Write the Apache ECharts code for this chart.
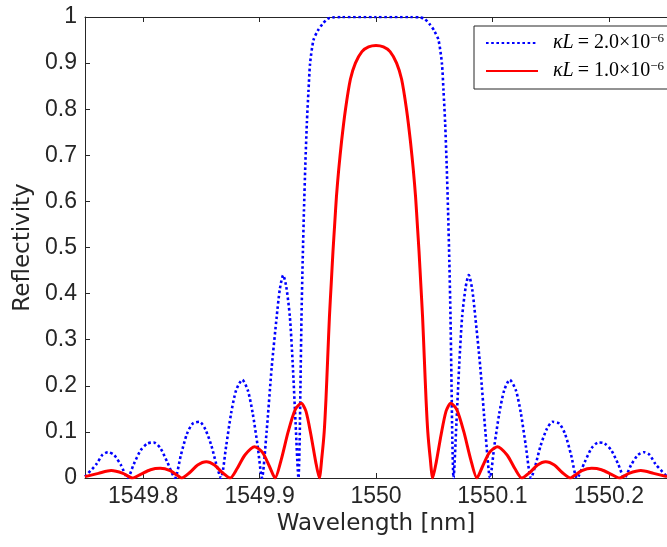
<!DOCTYPE html>
<html><head><meta charset="utf-8">
<script src="https://cdn.jsdelivr.net/npm/echarts@6/dist/echarts.min.js"></script>
<style>html,body{margin:0;padding:0;background:#fff}#c{width:667px;height:547px}</style>
</head><body><div id="c"></div>
<script>
// ---- data ----
const xTickValues = [1549.8, 1549.9, 1550, 1550.1, 1550.2];
const seriesNames = ['kL2', 'kL1'];
const legendLabels = ['{k|κL}{n|\u2009= 2.0×10}{s|−6}', '{k|κL}{n|\u2009= 1.0×10}{s|−6}'];

// κL = 2.0e-6 (blue, dotted)
const blueWl = [
1549.75,1549.7598,1549.7649,1549.7697,1549.7750,1549.7809,1549.7866,
1549.7919,1549.7978,1549.8037,1549.8090,1549.8147,1549.8206,1549.8273,
1549.8324,1549.8375,1549.8425,1549.8484,1549.8535,1549.8586,1549.8628,1549.8668,
1549.8713,1549.8755,1549.8798,1549.8851,1549.8899,1549.8941,1549.8983,1549.9020,
1549.9060,1549.9104,1549.9147,1549.9174,1549.9203,1549.9229,1549.9260,1549.9284,1549.9309,1549.9334,
1549.9344,1549.9351,1549.9360,1549.9370,1549.9381,1549.9393,1549.9406,1549.9420,1549.9434,
1549.9463,1549.9499,1549.9541,1549.9583,1549.9625,1549.9700,1550.0000,
1550.0300,1550.0375,1550.0417,1550.0459,1550.0501,1550.0537,
1550.0566,1550.0580,1550.0594,1550.0607,1550.0619,1550.0630,1550.0640,1550.0649,1550.0656,
1550.0666,1550.0691,1550.0716,1550.0740,1550.0771,1550.0797,1550.0826,1550.0853,1550.0896,1550.0940,
1550.0980,1550.1017,1550.1059,1550.1101,1550.1149,1550.1202,1550.1245,1550.1287,
1550.1332,1550.1372,1550.1414,1550.1465,1550.1516,1550.1575,1550.1625,1550.1676,
1550.1727,1550.1794,1550.1853,1550.1910,1550.1963,1550.2022,1550.2081,
1550.2134,1550.2191,1550.2250,1550.2303,1550.2351,1550.2402,1550.25
];
const blueR = [
0.003,0.03,0.05,0.056,0.05,0.028,0.0,
0.03,0.06,0.075,0.077,0.065,0.035,0.0,
0.05,0.095,0.118,0.122,0.105,0.07,0.03,0.0,
0.07,0.14,0.19,0.213,0.19,0.14,0.07,0.0,
0.10,0.24,0.35,0.41,0.44,0.415,0.35,0.25,0.12,0.0,
0.08,0.20,0.35,0.47,0.58,0.68,0.77,0.84,0.90,
0.95,0.97,0.985,0.996,0.999,1.0,1.0,
1.0,0.999,0.996,0.985,0.97,0.95,
0.90,0.84,0.77,0.68,0.58,0.47,0.35,0.20,0.08,
0.0,0.12,0.25,0.35,0.415,0.44,0.41,0.35,0.24,0.10,
0.0,0.07,0.14,0.19,0.213,0.19,0.14,0.07,
0.0,0.03,0.07,0.105,0.122,0.118,0.095,0.05,
0.0,0.035,0.065,0.077,0.075,0.06,0.03,
0.0,0.028,0.05,0.056,0.05,0.03,0.003
];

// κL = 1.0e-6 (red, solid)
const redWl = [
1549.75,1549.7615,1549.7725,1549.7826,1549.7908,
1549.7978,1549.8063,1549.8147,1549.8231,1549.8291,1549.8330,
1549.8400,1549.8468,1549.8542,1549.8612,1549.8679,1549.8747,
1549.8806,1549.8874,1549.8958,1549.9026,1549.9085,1549.9133,
1549.9186,1549.9245,1549.9305,1549.9358,1549.9398,1549.9440,1549.9482,1549.9513,
1549.9535,1549.9555,1549.9570,1549.9585,1549.9600,1549.9615,1549.9630,1549.9645,1549.9660,
1549.9680,1549.9704,1549.9738,1549.9780,1549.9823,1549.9879,1549.9936,1550.0000,
1550.0064,1550.0121,1550.0177,1550.0220,1550.0262,1550.0296,1550.0320,
1550.0340,1550.0355,1550.0370,1550.0385,1550.0400,1550.0415,1550.0430,1550.0445,1550.0465,
1550.0487,1550.0518,1550.0560,1550.0602,1550.0642,1550.0695,1550.0755,1550.0814,
1550.0867,1550.0915,1550.0974,1550.1042,1550.1126,1550.1194,
1550.1253,1550.1321,1550.1388,1550.1458,1550.1532,1550.1600,
1550.1670,1550.1709,1550.1769,1550.1853,1550.1937,1550.2022,
1550.2092,1550.2174,1550.2275,1550.2385,1550.25
];
const redR = [
0.003,0.01,0.016,0.01,0.0,
0.008,0.018,0.021,0.016,0.006,0.0,
0.012,0.028,0.035,0.028,0.012,0.0,
0.02,0.05,0.068,0.055,0.025,0.0,
0.04,0.10,0.148,0.162,0.145,0.095,0.035,0.0,
0.045,0.10,0.17,0.26,0.35,0.42,0.49,0.55,0.61,
0.67,0.73,0.80,0.865,0.90,0.925,0.935,0.938,
0.935,0.925,0.90,0.865,0.80,0.73,0.67,
0.61,0.55,0.49,0.42,0.35,0.26,0.17,0.10,0.045,
0.0,0.035,0.095,0.145,0.162,0.148,0.10,0.04,
0.0,0.025,0.055,0.068,0.05,0.02,
0.0,0.012,0.028,0.035,0.028,0.012,
0.0,0.006,0.016,0.021,0.018,0.008,
0.0,0.01,0.016,0.01,0.003
];

// ---- chart ----
const axisColor = '#262626';
const zip = (a, b) => a.map((v, i) => [v, b[i]]);
const chart = echarts.init(document.getElementById('c'), null, {renderer: 'canvas'});
const tickFont = {fontFamily: 'Liberation Sans', fontSize: 23, color: axisColor};
const nameFont = {fontFamily: 'DejaVu Sans', fontSize: 23, color: axisColor};
const serif = 'Liberation Serif';
const fmtX = v => String(Math.round(v * 10) / 10);
chart.setOption({
  animation: false,
  backgroundColor: '#fff',
  grid: {left: 85, top: 17, right: -10, bottom: 69},
  xAxis: [{
    type: 'value', min: 1549.75, max: 1550.25, position: 'bottom',
    name: 'Wavelength [nm]', nameLocation: 'middle', nameGap: 34, nameTextStyle: nameFont,
    axisLine: {show: true, onZero: false, lineStyle: {color: axisColor, width: 1}},
    axisTick: {show: true, inside: true, length: 5, customValues: xTickValues, lineStyle: {color: axisColor}},
    axisLabel: Object.assign({margin: 7, customValues: xTickValues, formatter: fmtX}, tickFont),
    splitLine: {show: false}
  }, {
    type: 'value', min: 1549.75, max: 1550.25, position: 'top',
    axisLine: {show: true, onZero: false, lineStyle: {color: axisColor, width: 1}},
    axisTick: {show: true, inside: true, length: 5, customValues: xTickValues, lineStyle: {color: axisColor}},
    axisLabel: {show: false},
    splitLine: {show: false}
  }],
  yAxis: [{
    type: 'value', min: 0, max: 1, interval: 0.1, position: 'left',
    name: 'Reflectivity', nameLocation: 'middle', nameGap: 50, nameTextStyle: nameFont,
    axisLine: {show: true, onZero: false, lineStyle: {color: axisColor, width: 1}},
    axisTick: {show: true, inside: true, length: 5, lineStyle: {color: axisColor}},
    axisLabel: Object.assign({margin: 8}, tickFont),
    splitLine: {show: false}
  }],
  legend: {
    data: seriesNames,
    orient: 'vertical', left: 474, top: 26,
    padding: [6, 6, 8, 11],
    itemWidth: 52, itemHeight: 14, itemGap: 7,
    borderColor: axisColor, borderWidth: 1, borderRadius: 0, backgroundColor: '#fff',
    selectedMode: false,
    itemStyle: {color: 'transparent', borderColor: 'transparent', borderWidth: 0, opacity: 0},
    formatter: n => legendLabels[seriesNames.indexOf(n)],
    textStyle: {
      padding: [0, 0, 0, 10],
      color: '#000',
      rich: {
        k: {fontFamily: serif, fontStyle: 'italic', fontSize: 20, lineHeight: 22, color: '#000'},
        n: {fontFamily: serif, fontSize: 20, lineHeight: 22, color: '#000'},
        s: {fontFamily: serif, fontSize: 13, lineHeight: 12, verticalAlign: 'top', color: '#000'}
      }
    }
  },
  series: [{
    name: seriesNames[0], type: 'line', data: zip(blueWl, blueR),
    symbol: 'none', showSymbol: false, smooth: 0.25,
    lineStyle: {color: '#0000ff', width: 2.6, type: [2.6, 2.6]},
    itemStyle: {color: '#0000ff'}
  }, {
    name: seriesNames[1], type: 'line', data: zip(redWl, redR),
    symbol: 'none', showSymbol: false, smooth: 0.25,
    lineStyle: {color: '#ff0000', width: 3},
    itemStyle: {color: '#ff0000'}
  }]
});
</script>
</body></html>
